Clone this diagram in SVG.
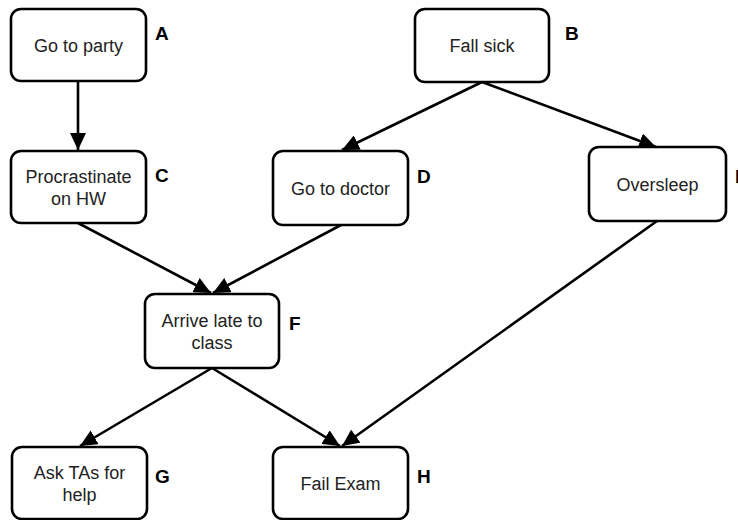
<svg xmlns="http://www.w3.org/2000/svg" width="738" height="520" viewBox="0 0 738 520">
<defs>
<style>
.box{fill:#fff;stroke:#000;stroke-width:2.6}
.t{font-family:"Liberation Sans",Arial,sans-serif;font-size:18px;fill:#222;text-anchor:middle}
.l{font-family:"Liberation Sans",Arial,sans-serif;font-size:19px;font-weight:bold;fill:#000}
.e{fill:none;stroke:#000;stroke-width:2.6;marker-end:url(#ah)}
</style>
<marker id="ah" markerUnits="userSpaceOnUse" markerWidth="18" markerHeight="16" viewBox="0 0 18 16" refX="17" refY="8" orient="auto">
<path d="M0,0 L17,8 L0,16 Z" fill="#000"/>
</marker>
</defs>
<rect width="738" height="520" fill="#fff"/>
<g id="connectors">
<line class="e" x1="78" y1="81" x2="78" y2="150"/>
<line class="e" x1="482" y1="82" x2="342" y2="150"/>
<line class="e" x1="482" y1="82" x2="656" y2="147"/>
<line class="e" x1="78" y1="223" x2="211" y2="293"/>
<line class="e" x1="341" y1="225" x2="213" y2="293"/>
<line class="e" x1="212" y1="368" x2="80" y2="446"/>
<line class="e" x1="212" y1="368" x2="340" y2="446"/>
<line class="e" x1="657" y1="221" x2="342" y2="446"/>
</g>
<g id="A">
<rect class="box" x="11" y="9" width="135" height="72" rx="10"/>
<text class="t" x="78.5" y="51.5">Go to party</text>
<text class="l" x="155" y="40">A</text>
</g>
<g id="B">
<rect class="box" x="415" y="9" width="134" height="73" rx="10"/>
<text class="t" x="482" y="52">Fall sick</text>
<text class="l" x="565" y="40">B</text>
</g>
<g id="C">
<rect class="box" x="11" y="151" width="135" height="72" rx="10"/>
<text class="t" x="78.5" y="183">Procrastinate</text>
<text class="t" x="78.5" y="205">on HW</text>
<text class="l" x="155" y="182">C</text>
</g>
<g id="D">
<rect class="box" x="273" y="151" width="135" height="74" rx="10"/>
<text class="t" x="340.5" y="194.5">Go to doctor</text>
<text class="l" x="417" y="183">D</text>
</g>
<g id="E">
<rect class="box" x="589" y="147" width="137" height="74" rx="10"/>
<text class="t" x="657.5" y="190.5">Oversleep</text>
<text class="l" x="735" y="183">E</text>
</g>
<g id="F">
<rect class="box" x="145" y="294" width="134" height="74" rx="10"/>
<text class="t" x="212" y="326.5">Arrive late to</text>
<text class="t" x="212" y="348.5">class</text>
<text class="l" x="289" y="330">F</text>
</g>
<g id="G">
<rect class="box" x="12" y="447" width="135" height="72" rx="10"/>
<text class="t" x="79.5" y="479">Ask TAs for</text>
<text class="t" x="79.5" y="501">help</text>
<text class="l" x="155" y="483">G</text>
</g>
<g id="H">
<rect class="box" x="273" y="447" width="135" height="72" rx="10"/>
<text class="t" x="340.5" y="489.5">Fail Exam</text>
<text class="l" x="417" y="483">H</text>
</g>
</svg>
